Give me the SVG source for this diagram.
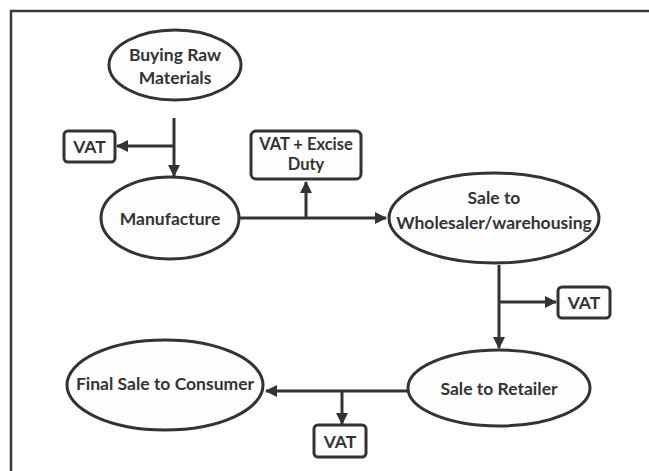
<svg xmlns="http://www.w3.org/2000/svg" width="649" height="471" viewBox="0 0 649 471">
<style>
.n{fill:#fefefe;stroke:#333;stroke-width:3}
.t{font-family:Lato,"Open Sans","Liberation Sans",sans-serif;font-weight:bold;font-size:17.5px;fill:#333;text-anchor:middle}
.s{font-size:16.5px}
.c{fill:none;stroke:#333;stroke-width:3}
</style>
<defs>
<marker id="ah" markerUnits="userSpaceOnUse" markerWidth="12" markerHeight="12" viewBox="0 0 12 12" refX="11" refY="6" orient="auto">
<path d="M0,0 L12,6 L0,12 Z" fill="#333"/>
</marker>
</defs>
<rect width="649" height="471" fill="#fff"/>
<path d="M11,471 V11 H649" fill="none" stroke="#3a3a3a" stroke-width="2.5"/>
<g id="connectors">
<path class="c" d="M174,118 V176" marker-end="url(#ah)"/>
<path class="c" d="M174,146 H117" marker-end="url(#ah)"/>
<path class="c" d="M240,218 H386" marker-end="url(#ah)"/>
<path class="c" d="M306,218 V182" marker-end="url(#ah)"/>
<path class="c" d="M499,265 V348" marker-end="url(#ah)"/>
<path class="c" d="M499,302 H556" marker-end="url(#ah)"/>
<path class="c" d="M408,391 H266" marker-end="url(#ah)"/>
<path class="c" d="M342,391 V424" marker-end="url(#ah)"/>
</g>
<g id="buying">
<ellipse class="n" cx="175" cy="65" rx="66" ry="35"/>
<text class="t" x="175" y="61">Buying Raw</text>
<text class="t" x="175" y="84">Materials</text>
</g>
<g id="vat1">
<rect class="n" x="64" y="131" width="51" height="31" rx="4"/>
<text class="t" x="89.5" y="153">VAT</text>
</g>
<g id="manufacture">
<ellipse class="n" cx="170" cy="218" rx="69" ry="41"/>
<text class="t" x="170" y="225">Manufacture</text>
</g>
<g id="vatexcise">
<rect class="n" x="251" y="131" width="110" height="48" rx="5"/>
<text class="t s" x="306" y="150">VAT + Excise</text>
<text class="t s" x="306" y="170">Duty</text>
</g>
<g id="wholesaler">
<ellipse class="n" cx="494" cy="218" rx="105" ry="45"/>
<text class="t" x="494" y="204">Sale to</text>
<text class="t" x="494" y="229">Wholesaler/warehousing</text>
</g>
<g id="vat2">
<rect class="n" x="558" y="287" width="52" height="31" rx="4"/>
<text class="t" x="584" y="309">VAT</text>
</g>
<g id="retailer">
<ellipse class="n" cx="499" cy="388" rx="91" ry="38"/>
<text class="t" x="499" y="395">Sale to Retailer</text>
</g>
<g id="consumer">
<ellipse class="n" cx="165" cy="385" rx="98" ry="45"/>
<text class="t" x="165" y="390">Final Sale to Consumer</text>
</g>
<g id="vat3">
<rect class="n" x="314" y="425" width="52" height="32" rx="4"/>
<text class="t" x="340" y="448">VAT</text>
</g>
</svg>
